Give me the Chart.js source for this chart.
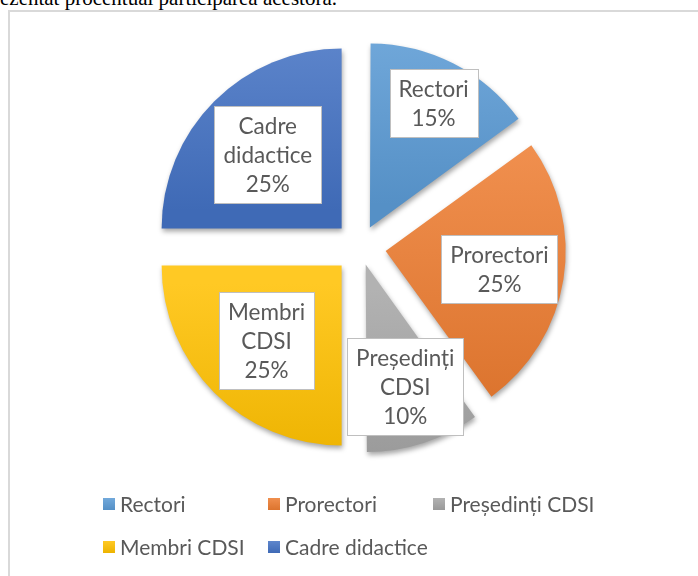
<!DOCTYPE html>
<html>
<head>
<meta charset="utf-8">
<script src="https://cdn.jsdelivr.net/npm/chart.js@4.4.0/dist/chart.umd.min.js"></script>
<style>
body { margin: 0; width: 698px; height: 576px; overflow: hidden; background: #fff; position: relative; }
#intro { position: absolute; left: 0; top: -14px; font: 21px "Liberation Serif", serif; color: #000; white-space: nowrap; }
#frame { position: absolute; left: 8px; top: 10px; width: 720px; height: 600px; border-left: 2px solid #d9d9d9; border-top: 2px solid #d9d9d9; }
#graficPie { position: absolute; left: 0; top: 0; }
#legend { position: absolute; left: 103px; top: 482px; display: grid; grid-template-columns: 165px 165px 190px; grid-auto-rows: 43px; font: 21px Lato, sans-serif; color: #595959; }
#legend div { display: flex; align-items: center; white-space: nowrap; }
#legend span.sw { display: inline-block; width: 12px; height: 12px; margin-right: 5px; }
</style>
</head>
<body>
<div id="intro">ezentat procentual participarea acestora.</div>
<div id="frame"></div>
<canvas id="graficPie" width="698" height="576"></canvas>
<div id="legend"></div>
<script>
const categories = ['Rectori', 'Prorectori', 'Președinți CDSI', 'Membri CDSI', 'Cadre didactice'];
const shares = [15, 25, 10, 25, 25];
const baseColors = ['#5B9BD5', '#ED7D31', '#A5A5A5', '#FFC000', '#4472C4'];

const RADIUS = 180;
const SHIFT = 26;
// distanta eticheta fata de varful feliei (fractie din raza)
const labelDist = [0.756, 0.64, 0.67, 0.59, 0.58];

const total = shares.reduce((a, b) => a + b, 0);

function mix(hex, target, t) {
    const n = parseInt(hex.slice(1), 16);
    const r = (n >> 16) & 255, g = (n >> 8) & 255, b = n & 255;
    const f = v => Math.round(v + (target - v) * t);
    return 'rgb(' + f(r) + ',' + f(g) + ',' + f(b) + ')';
}

function sliceAngles(i) {
    let before = 0;
    for (let k = 0; k < i; k++) before += shares[k];
    const s = -Math.PI / 2 + 2 * Math.PI * before / total;
    const e = s + 2 * Math.PI * shares[i] / total;
    return [s, e];
}

// gradient vertical pe fiecare felie
function fillFor(ctx) {
    const chart = ctx.chart;
    const area = chart.chartArea;
    const i = ctx.dataIndex;
    if (!area || i === undefined) return baseColors[i || 0];
    const cx = (area.left + area.right) / 2, cy = (area.top + area.bottom) / 2;
    const [s, e] = sliceAngles(i);
    const mid = (s + e) / 2;
    const oy = cy + Math.sin(mid) * SHIFT;
    const ys = [oy, oy + Math.sin(s) * RADIUS, oy + Math.sin(e) * RADIUS];
    if (s < Math.PI / 2 && e > Math.PI / 2) ys.push(oy + RADIUS);
    if (s <= -Math.PI / 2 + 1e-6 || e >= 3 * Math.PI / 2 - 1e-6) ys.push(oy - RADIUS);
    const top = Math.min(...ys), bottom = Math.max(...ys);
    const g = chart.ctx.createLinearGradient(0, top, 0, bottom);
    g.addColorStop(0, mix(baseColors[i], 255, 0.14));
    g.addColorStop(1, mix(baseColors[i], 0, 0.07));
    return g;
}

// Chart.js muta felia cu offset/4 (plus o corectie), aici se cere SHIFT px
function offsetFor(ctx) {
    const i = ctx.dataIndex || 0;
    const circ = 2 * Math.PI * shares[i] / total;
    const fix = 1 - Math.sin(Math.min(Math.PI, circ));
    return 4 * SHIFT / (1 + fix);
}

const shadowPlugin = {
    id: 'shadow',
    beforeDatasetsDraw(chart) {
        const c = chart.ctx;
        c.save();
        c.shadowColor = 'rgba(0,0,0,0.35)';
        c.shadowBlur = 5;
        c.shadowOffsetX = 1;
        c.shadowOffsetY = 3;
    },
    afterDatasetsDraw(chart) {
        chart.ctx.restore();
    }
};

const labelPlugin = {
    id: 'sliceLabels',
    afterDatasetsDraw(chart) {
        const c = chart.ctx;
        const arcs = chart.getDatasetMeta(0).data;
        c.save();
        c.font = '22.5px Lato';
        c.textAlign = 'center';
        c.textBaseline = 'middle';
        arcs.forEach((arc, i) => {
            const p = arc.getProps(['x', 'y', 'startAngle', 'endAngle'], true);
            const mid = (p.startAngle + p.endAngle) / 2;
            const d = SHIFT + RADIUS * labelDist[i];
            const lx = p.x + Math.cos(mid) * d;
            const ly = p.y + Math.sin(mid) * d;
            const lines = categories[i].split(' ').concat([Math.round(shares[i] / total * 100) + '%']);
            const w = Math.round(Math.max(...lines.map(t => c.measureText(t).width)) + 18);
            const h = lines.length * 29 + 10;
            const bx = Math.round(lx - w / 2) + 0.5, by = Math.round(ly - h / 2) + 0.5;
            c.fillStyle = '#fff';
            c.strokeStyle = '#bfbfbf';
            c.lineWidth = 1;
            c.fillRect(bx, by, w, h);
            c.strokeRect(bx, by, w, h);
            c.fillStyle = '#595959';
            lines.forEach((t, k) => {
                c.fillText(t, lx, by + 5 + 14.5 + k * 29 + 1);
            });
        });
        c.restore();
    }
};

new Chart(document.getElementById('graficPie'), {
    type: 'pie',
    data: {
        labels: categories,
        datasets: [{
            data: shares,
            backgroundColor: fillFor,
            borderWidth: 0,
            offset: offsetFor,
            radius: RADIUS
        }]
    },
    options: {
        responsive: false,
        animation: false,
        events: [],
        layout: { padding: { left: 22, right: 0, top: 0, bottom: 82 } },
        plugins: {
            legend: { display: false },
            tooltip: { enabled: false }
        }
    },
    plugins: [shadowPlugin, labelPlugin]
});

const legend = document.getElementById('legend');
categories.forEach((name, i) => {
    const item = document.createElement('div');
    const sw = document.createElement('span');
    sw.className = 'sw';
    sw.style.background = 'linear-gradient(' + mix(baseColors[i], 255, 0.14) + ',' + mix(baseColors[i], 0, 0.07) + ')';
    item.appendChild(sw);
    item.appendChild(document.createTextNode(name));
    legend.appendChild(item);
});
</script>
</body>
</html>
